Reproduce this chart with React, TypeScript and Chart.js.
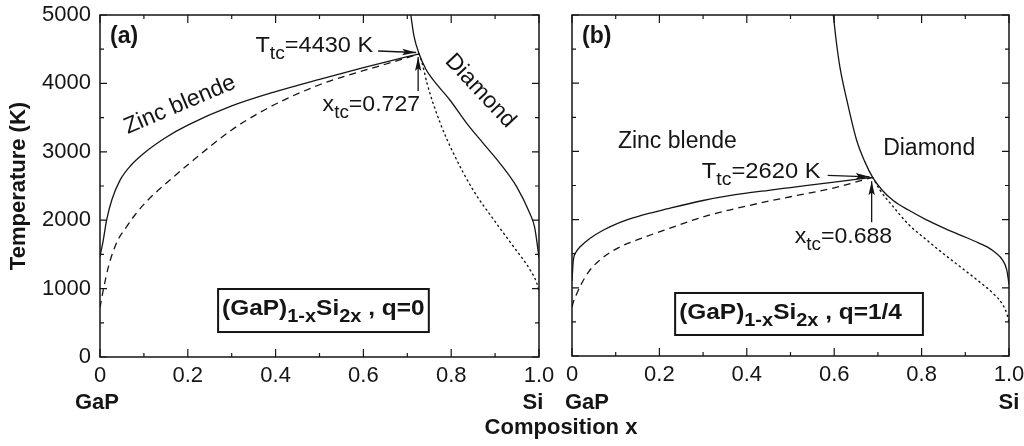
import React, { useEffect, useRef } from 'react';
import { Chart, registerables } from 'chart.js';

Chart.register(...registerables);

const W = 1024;
const H = 446;
const FONT = '"Liberation Sans", Arial, Helvetica, sans-serif';
const INK = '#151515';

// tick labels
const xTickLabels = ['0', '0.2', '0.4', '0.6', '0.8', '1.0'];
const yTickLabels = ['0', '1000', '2000', '3000', '4000', '5000'];

// ---------- panel (a): q = 0 ----------
const aZincX = [0, 0.0075, 0.015, 0.027, 0.046, 0.07, 0.1, 0.15, 0.2, 0.3, 0.4, 0.5, 0.6, 0.7, 0.727];
const aZincT = [1470, 1710, 2000, 2300, 2590, 2800, 2980, 3210, 3390, 3670, 3880, 4060, 4230, 4390, 4430];
const aZincMetaX = [0, 0.003, 0.0075, 0.02, 0.04, 0.06, 0.08, 0.11, 0.16, 0.2, 0.3, 0.36, 0.42, 0.5, 0.56, 0.65, 0.727];
const aZincMetaT = [720, 830, 980, 1340, 1700, 1900, 2080, 2300, 2590, 2810, 3320, 3560, 3760, 3980, 4110, 4280, 4430];
const aDiaX = [0.708, 0.715, 0.727, 0.743, 0.759, 0.797, 0.835, 0.873, 0.911, 0.949, 0.979, 0.99, 0.997, 1.0];
const aDiaT = [5000, 4700, 4430, 4200, 4050, 3757, 3420, 3124, 2832, 2490, 2100, 1900, 1600, 1450];
const aDiaMetaX = [0.727, 0.735, 0.745, 0.775, 0.805, 0.85, 0.9, 0.94, 0.98, 0.995, 1.0];
const aDiaMetaT = [4430, 4270, 4000, 3420, 2980, 2440, 1980, 1630, 1270, 1080, 950];
const aXtc = 0.727;
const aTtc = 4430;

// ---------- panel (b): q = 1/4 ----------
const bZincX = [0, 0.003, 0.01, 0.02, 0.04, 0.07, 0.11, 0.15, 0.22, 0.3, 0.36, 0.45, 0.5, 0.6, 0.688];
const bZincT = [1100, 1400, 1530, 1610, 1720, 1840, 1960, 2045, 2160, 2280, 2350, 2430, 2470, 2550, 2620];
const bZincMetaX = [0, 0.005, 0.01, 0.02, 0.04, 0.07, 0.11, 0.15, 0.22, 0.3, 0.36, 0.45, 0.5, 0.6, 0.688];
const bZincMetaT = [720, 830, 900, 1040, 1250, 1440, 1600, 1705, 1865, 2040, 2140, 2270, 2335, 2465, 2620];
const bDiaX = [0.598, 0.605, 0.613, 0.629, 0.651, 0.67, 0.688, 0.71, 0.735, 0.77, 0.81, 0.85, 0.89, 0.93, 0.95, 0.97, 0.985, 0.995, 1.0];
const bDiaT = [5000, 4600, 4240, 3750, 3170, 2850, 2620, 2430, 2280, 2140, 2000, 1880, 1770, 1660, 1600, 1510, 1410, 1260, 1050];
const bDiaMetaX = [0.688, 0.705, 0.735, 0.77, 0.81, 0.85, 0.89, 0.93, 0.965, 0.985, 0.995, 1.0];
const bDiaMetaT = [2620, 2430, 2190, 1930, 1710, 1500, 1300, 1100, 910, 760, 620, 500];
const bXtc = 0.688;
const bTtc = 2620;

type Part = { t: string; sub?: boolean };

function setFont(ctx: CanvasRenderingContext2D, size: number, bold: boolean) {
  ctx.font = `${bold ? 'bold ' : ''}${size}px ${FONT}`;
}

function drawRich(
  ctx: CanvasRenderingContext2D,
  parts: Part[],
  x: number,
  y: number,
  size: number,
  bold: boolean,
  align: 'left' | 'right' | 'center',
  stretch = 1
) {
  const subSize = Math.round(size * 0.8);
  const widths = parts.map((p) => {
    setFont(ctx, p.sub ? subSize : size, bold);
    return ctx.measureText(p.t).width;
  });
  const total = widths.reduce((a, b) => a + b, 0) * stretch;
  const x0 = align === 'left' ? x : align === 'right' ? x - total : x - total / 2;
  ctx.save();
  ctx.translate(x0, 0);
  ctx.scale(stretch, 1);
  let cx = 0;
  ctx.textAlign = 'left';
  ctx.textBaseline = 'alphabetic';
  parts.forEach((p, i) => {
    setFont(ctx, p.sub ? subSize : size, bold);
    ctx.fillText(p.t, cx, p.sub ? y + size * 0.32 : y);
    cx += widths[i];
  });
  ctx.restore();
  return total;
}

function drawRotated(ctx: CanvasRenderingContext2D, text: string, cx: number, cy: number, deg: number, size: number, bold: boolean) {
  ctx.save();
  ctx.translate(cx, cy);
  ctx.rotate((deg * Math.PI) / 180);
  setFont(ctx, size, bold);
  ctx.textAlign = 'center';
  ctx.textBaseline = 'middle';
  ctx.fillText(text, 0, 0);
  ctx.restore();
}

function arrow(ctx: CanvasRenderingContext2D, x1: number, y1: number, x2: number, y2: number) {
  ctx.beginPath();
  ctx.moveTo(x1, y1);
  ctx.lineTo(x2, y2);
  ctx.stroke();
  const a = Math.atan2(y2 - y1, x2 - x1);
  const L = 14;
  const w = 3.2;
  const c = Math.cos(a);
  const s = Math.sin(a);
  ctx.beginPath();
  ctx.moveTo(x2, y2);
  ctx.lineTo(x2 - L * c + w * s, y2 - L * s - w * c);
  ctx.lineTo(x2 - L * 0.8 * c, y2 - L * 0.8 * s);
  ctx.lineTo(x2 - L * c - w * s, y2 - L * s + w * c);
  ctx.closePath();
  ctx.fill();
}

type PanelSpec = {
  key: 'a' | 'b';
  tag: string;
  xtc: number;
  Ttc: number;
  tText: string;
  xText: string;
  qText: string;
};

const panelA: PanelSpec = { key: 'a', tag: '(a)', xtc: aXtc, Ttc: aTtc, tText: '=4430 K', xText: '=0.727', qText: ' , q=0' };
const panelB: PanelSpec = { key: 'b', tag: '(b)', xtc: bXtc, Ttc: bTtc, tText: '=2620 K', xText: '=0.688', qText: ' , q=1/4' };

const decorPlugin = {
  id: 'decor',
  afterDraw(chart: any, _args: any, opts: any) {
    const spec: PanelSpec = opts.spec;
    const { ctx, chartArea: ar } = chart;
    const xs = chart.scales.x;
    const ys = chart.scales.y;
    const P = (xv: number, tv: number) => ({ x: xs.getPixelForValue(xv), y: ys.getPixelForValue(tv) });
    ctx.save();
    ctx.strokeStyle = INK;
    ctx.fillStyle = INK;

    // frame
    ctx.lineWidth = 1.5;
    ctx.strokeRect(ar.left, ar.top, ar.right - ar.left, ar.bottom - ar.top);

    // inward ticks on all four sides
    ctx.lineWidth = 1.2;
    ctx.beginPath();
    xs.ticks.forEach((t: any) => {
      const k = Math.round(t.value * 10);
      const L = k % 2 === 0 ? 8 : 4;
      const p = xs.getPixelForValue(t.value);
      ctx.moveTo(p, ar.bottom);
      ctx.lineTo(p, ar.bottom - L);
      ctx.moveTo(p, ar.top);
      ctx.lineTo(p, ar.top + L);
    });
    ys.ticks.forEach((t: any) => {
      const k = Math.round(t.value / 500);
      const L = k % 2 === 0 ? 7 : 4;
      const p = ys.getPixelForValue(t.value);
      ctx.moveTo(ar.left, p);
      ctx.lineTo(ar.left + L, p);
      ctx.moveTo(ar.right, p);
      ctx.lineTo(ar.right - L, p);
    });
    ctx.stroke();

    // panel tag
    setFont(ctx, 23, true);
    ctx.textAlign = 'left';
    ctx.textBaseline = 'alphabetic';
    ctx.fillText(spec.tag, ar.left + (spec.key === 'a' ? 10 : 10), ar.top + 28);

    // GaP / Si end labels
    setFont(ctx, 22, true);
    ctx.textAlign = 'center';
    ctx.fillText('GaP', ar.left + (spec.key === 'a' ? -3 : 15), 409);
    ctx.fillText('Si', ar.right + (spec.key === 'a' ? -6 : 0), 409);

    // transition point annotations
    const tip = P(spec.xtc, spec.Ttc);
    ctx.lineWidth = 1.3;
    if (spec.key === 'a') {
      arrow(ctx, tip.x - 41, tip.y - 3, tip.x - 3, tip.y - 1.5);
      drawRich(ctx, [{ t: 'T' }, { t: 'tc', sub: true }, { t: spec.tText }], tip.x - 46, tip.y - 2, 22, false, 'right', 1.07);
      arrow(ctx, tip.x - 1, tip.y + 37, tip.x - 1, tip.y + 3);
      drawRich(ctx, [{ t: 'x' }, { t: 'tc', sub: true }, { t: spec.xText }], tip.x + 1, tip.y + 57, 22, false, 'right', 1.05);
      // phase labels
      const zb = P(0.182, 3684);
      drawRotated(ctx, 'Zinc blende', zb.x, zb.y, -23, 23, false);
      const dm = P(0.866, 3889);
      drawRotated(ctx, 'Diamond', dm.x, dm.y, 47, 23, false);
    } else {
      arrow(ctx, tip.x - 45, tip.y - 2, tip.x - 3, tip.y - 0.5);
      drawRich(ctx, [{ t: 'T' }, { t: 'tc', sub: true }, { t: spec.tText }], tip.x - 52, tip.y + 1, 22, false, 'right', 1.08);
      arrow(ctx, tip.x - 1, tip.y + 45, tip.x - 1, tip.y + 4);
      drawRich(ctx, [{ t: 'x' }, { t: 'tc', sub: true }, { t: spec.xText }], tip.x - 78, tip.y + 66, 22, false, 'left', 1.05);
      const zb = P(0.105, 3050);
      setFont(ctx, 23, false);
      ctx.textAlign = 'left';
      ctx.textBaseline = 'alphabetic';
      ctx.fillText('Zinc blende', zb.x, zb.y);
      const dm = P(0.712, 2947);
      ctx.fillText('Diamond', dm.x, dm.y);
    }

    // formula box
    const b0 = spec.key === 'a' ? P(0.269, 994) : P(0.236, 924);
    const b1 = spec.key === 'a' ? P(0.749, 365) : P(0.803, 308);
    ctx.lineWidth = 2;
    ctx.strokeRect(b0.x, b0.y, b1.x - b0.x, b1.y - b0.y);
    drawRich(
      ctx,
      [{ t: '(GaP)' }, { t: '1-x', sub: true }, { t: 'Si' }, { t: '2x', sub: true }, { t: spec.qText }],
      b0.x + 4,
      b0.y + 26,
      22,
      true,
      'left',
      1.11
    );

    // shared axis titles (drawn once, from panel a)
    if (spec.key === 'a') {
      drawRotated(ctx, 'Temperature (K)', 19, 186, -90, 22, true);
      setFont(ctx, 22, true);
      ctx.textAlign = 'center';
      ctx.textBaseline = 'alphabetic';
      ctx.fillText('Composition x', 561, 434);
    }
    ctx.restore();
  },
};

function series(xs: number[], ts: number[], kind: 'solid' | 'dash' | 'dot') {
  return {
    data: xs.map((x, i) => ({ x, y: ts[i] })),
    borderColor: INK,
    borderWidth: kind === 'dot' ? 1.4 : 1.3,
    borderDash: kind === 'dash' ? [7, 5] : kind === 'dot' ? [1.2, 3.8] : [],
    borderCapStyle: kind === 'dot' ? 'round' : 'butt',
    pointRadius: 0,
    fill: false,
    cubicInterpolationMode: 'monotone',
  };
}

function makeConfig(spec: PanelSpec) {
  const isA = spec.key === 'a';
  const datasets = isA
    ? [
        series(aZincX, aZincT, 'solid'),
        series(aZincMetaX, aZincMetaT, 'dash'),
        series(aDiaX, aDiaT, 'solid'),
        series(aDiaMetaX, aDiaMetaT, 'dot'),
      ]
    : [
        series(bZincX, bZincT, 'solid'),
        series(bZincMetaX, bZincMetaT, 'dash'),
        series(bDiaX, bDiaT, 'solid'),
        series(bDiaMetaX, bDiaMetaT, 'dot'),
      ];
  const left = isA ? 100 : 572;
  const right = isA ? 539 : 1009;
  const bottom = isA ? 357 : 356;
  const yW = isA ? 100 : 10;
  const xH = 30;
  const tickFont = { family: FONT, size: 22 };
  return {
    type: 'line',
    data: { datasets },
    options: {
      responsive: false,
      animation: false,
      devicePixelRatio: 1,
      events: [],
      layout: { padding: { left: left - yW, right: W - right, top: 15, bottom: H - bottom - xH } },
      plugins: { legend: { display: false }, tooltip: { enabled: false }, decor: { spec } },
      scales: {
        x: {
          type: 'linear',
          min: 0,
          max: 1,
          grid: { display: false, drawTicks: false },
          border: { display: false },
          ticks: {
            stepSize: 0.1,
            autoSkip: false,
            maxRotation: 0,
            minRotation: 0,
            padding: 6,
            color: INK,
            font: tickFont,
            callback: (v: number) => {
              const k = Math.round(v * 10);
              return k % 2 === 0 ? xTickLabels[k / 2] : '';
            },
          },
          afterFit: (s: any) => {
            s.height = xH;
            s.paddingLeft = 0;
            s.paddingRight = 0;
          },
        },
        y: {
          type: 'linear',
          min: 0,
          max: 5000,
          grid: { display: false, drawTicks: false },
          border: { display: false },
          ticks: {
            display: isA,
            stepSize: 500,
            autoSkip: false,
            padding: 9,
            color: INK,
            font: tickFont,
            callback: (v: number) => {
              const k = Math.round(v / 500);
              return k % 2 === 0 ? yTickLabels[k / 2] : '';
            },
          },
          afterFit: (s: any) => {
            s.width = yW;
            s.paddingTop = 0;
            s.paddingBottom = 0;
          },
        },
      },
    },
    plugins: [decorPlugin],
  };
}

function Panel({ spec }: { spec: PanelSpec }) {
  const ref = useRef<HTMLCanvasElement | null>(null);
  useEffect(() => {
    if (!ref.current) return;
    const chart = new Chart(ref.current, makeConfig(spec) as any);
    return () => chart.destroy();
  }, [spec]);
  return (
    <canvas
      ref={ref}
      width={W}
      height={H}
      style={{ position: 'absolute', left: 0, top: 0, width: W, height: H }}
    />
  );
}

export default function App() {
  return (
    <div style={{ position: 'absolute', left: 0, top: 0, width: W, height: H, background: '#fff' }}>
      <Panel spec={panelA} />
      <Panel spec={panelB} />
    </div>
  );
}
